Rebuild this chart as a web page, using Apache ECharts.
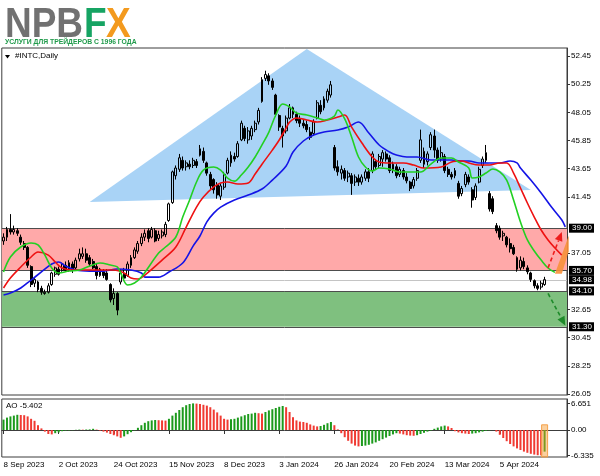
<!DOCTYPE html>
<html><head><meta charset="utf-8">
<script src="https://cdn.jsdelivr.net/npm/echarts@6/dist/echarts.min.js"></script>
<style>html,body{margin:0;padding:0;background:#fff}#c{width:600px;height:476px}</style>
</head><body><div id="c"></div>
<script>
// ---- data ----
const opens = [38.0,38.3,38.9,38.7,38.8,38.3,37.8,37.5,36.0,34.7,
 34.8,34.3,33.9,34.0,34.6,35.4,35.8,35.7,36.1,35.7,
 36.2,35.9,36.6,36.8,37.0,36.7,36.4,36.0,35.3,35.6,
 35.5,34.6,33.5,33.9,34.8,35.4,35.3,36.1,36.7,37.2,
 37.8,38.3,38.8,38.3,38.8,38.2,38.4,38.5,39.6,41.0,
 43.1,43.6,44.3,43.8,44.0,43.9,44.2,44.7,45.0,44.1,
 43.2,42.8,42.4,41.5,42.2,43.3,44.1,44.6,44.6,45.9,
 46.8,45.9,46.2,46.7,47.3,48.9,50.7,50.9,50.5,49.4,
 47.8,46.8,46.6,47.6,48.4,47.9,47.5,47.2,47.1,46.5,
 46.4,47.6,48.6,48.4,49.0,49.4,45.3,43.8,43.3,43.5,
 43.0,43.1,42.6,42.9,42.6,42.9,43.4,43.5,44.2,43.9,
 44.4,44.8,44.5,43.6,43.8,43.2,43.5,43.0,42.6,42.3,
 42.9,44.3,45.0,44.2,45.3,46.2,45.1,44.4,44.6,43.6,
 43.2,43.1,42.5,41.7,42.4,43.0,42.0,41.4,42.6,43.9,
 44.3,41.7,41.3,39.2,39.0,38.4,38.3,37.8,37.5,36.7,
 35.9,36.4,35.9,35.5,34.9,34.5,34.4,34.6];
const closes = [38.3,38.9,38.7,38.9,38.6,37.9,37.5,36.1,34.6,35.0,
 34.2,34.0,34.0,34.5,35.5,35.9,35.4,36.2,35.7,36.3,
 35.7,36.5,37.0,37.0,36.5,36.2,35.9,35.3,35.8,35.3,
 35.0,33.4,33.9,32.6,35.5,35.1,36.2,36.7,37.3,37.8,
 38.3,38.6,38.2,38.9,38.0,38.5,38.7,39.3,40.9,43.4,
 43.7,44.5,43.7,44.1,43.8,44.3,43.9,45.2,44.3,43.3,
 42.3,42.0,41.6,42.3,43.2,44.3,44.7,44.4,45.6,47.2,
 46.0,46.6,46.8,47.2,48.2,50.6,51.0,50.5,50.0,47.9,
 46.9,46.2,47.6,48.4,47.9,47.4,47.2,47.0,46.7,46.1,
 47.3,48.8,48.1,49.1,49.7,50.2,43.7,43.4,43.6,42.9,
 43.3,42.5,43.0,42.6,43.0,43.4,42.9,44.8,43.8,44.6,
 44.9,44.4,43.5,44.0,43.1,43.6,43.0,42.7,42.1,42.8,
 43.5,45.9,44.0,44.8,46.3,45.1,44.3,44.9,43.5,43.2,
 43.0,43.5,41.5,42.1,43.2,42.6,41.2,42.3,43.6,44.4,
 44.9,40.5,40.3,38.8,38.3,38.6,37.7,37.4,37.0,35.8,
 36.5,36.0,35.6,35.0,34.5,34.3,34.7,34.98];
const lows = [37.7,38.0,38.5,38.5,38.4,37.7,37.3,35.9,34.4,34.4,
 34.0,33.8,33.8,33.9,34.5,35.2,35.3,35.6,35.6,35.6,
 35.5,35.8,36.4,36.6,36.3,36.0,35.8,35.0,35.2,35.1,
 34.9,33.2,33.0,32.2,34.6,34.9,35.2,35.9,36.6,37.0,
 37.6,38.0,37.9,38.2,37.9,38.0,38.2,38.3,39.5,40.9,
 42.8,43.4,43.5,43.5,43.6,43.7,43.7,44.6,44.1,43.1,
 42.0,41.7,41.3,41.2,42.0,43.2,43.8,44.2,44.5,45.8,
 45.8,45.6,45.9,46.5,47.1,48.8,50.5,50.2,49.8,47.7,
 46.6,45.3,46.4,47.5,47.6,47.2,46.9,46.8,46.5,45.9,
 46.2,47.5,47.9,48.2,48.8,49.2,43.5,43.1,42.8,42.7,
 42.6,41.6,42.3,42.3,42.4,42.7,42.6,43.3,43.6,43.7,
 43.8,44.2,43.3,43.3,42.9,43.0,42.8,42.5,41.9,42.1,
 42.7,44.1,43.7,43.9,45.1,44.5,44.1,44.2,43.3,43.0,
 42.8,42.9,41.3,41.5,42.2,42.4,40.6,41.2,42.5,43.7,
 44.1,40.3,40.1,38.6,38.1,38.0,37.5,37.1,36.9,35.6,
 35.7,35.8,35.4,34.8,34.3,34.15,34.2,34.5];
const highs = [38.6,39.1,40.1,39.2,39.0,38.5,38.0,37.6,36.1,35.1,
 34.9,34.5,34.2,34.7,35.6,36.0,36.0,36.3,36.4,36.5,
 36.4,36.7,37.4,37.5,37.4,36.9,36.6,36.2,35.9,35.8,
 35.8,34.7,34.3,34.0,35.8,35.9,36.4,36.9,37.5,38.0,
 38.6,38.9,39.0,39.1,39.0,38.8,38.9,39.5,41.0,43.5,
 43.9,44.8,44.6,44.3,44.3,44.5,44.4,45.5,45.3,44.2,
 43.4,42.9,42.6,42.5,43.4,44.5,45.0,44.9,45.8,47.4,
 47.0,46.9,47.0,47.4,48.4,50.8,51.3,51.1,50.7,49.5,
 47.9,47.0,47.8,48.7,48.5,48.1,47.8,47.5,47.4,46.9,
 47.5,49.0,49.0,49.3,49.9,50.5,45.5,44.3,43.9,43.7,
 43.5,43.3,43.2,43.2,43.2,43.6,43.7,45.0,44.4,44.8,
 45.1,45.0,44.7,44.2,44.0,43.8,43.7,43.3,42.7,43.0,
 43.7,46.7,45.3,45.0,46.5,46.7,45.3,45.4,44.8,43.8,
 43.4,43.7,42.7,42.3,43.4,43.2,42.2,42.5,43.8,44.6,
 45.5,41.9,41.5,39.4,39.2,38.8,38.4,38.2,37.7,36.8,
 36.8,36.7,36.1,35.6,35.0,34.7,34.9,35.2];

// Awesome Oscillator values
const aoValues = [2.6,3.1,3.4,3.6,3.8, 3.75,3.7,3.4,2.8,2.3,
 1.2,0.4,-0.4,-1.0,-1.1, -0.8,-0.6,-0.3,-0.15,
 -0.1,-0.05,0.05,0.1,0.08,0.12,0.15,0.3,0.1,
 -0.15,-0.4,-0.65,-1.0,-1.3,-1.6,-1.95,
 -1.6,-1.05,-0.55,-0.1, 0.55,1.2,1.8,2.2,2.4,2.5, 2.45,2.4,2.35,
 2.8,3.6,4.3,5.0,5.7,6.2,6.5,6.651,
 6.6,6.5,6.3,6.1,5.7,5.1,4.4,3.6,2.8, 2.6,
 2.7,2.8,3.1,3.4,3.7,4.0,4.1,4.3, 4.2,4.1,
 4.5,4.9,5.2,5.5,5.8,6.0,
 5.7,4.5,3.2,2.4,2.1,2.0,1.8,1.4,1.1,0.9,
 1.0,1.3,1.7,2.0, 1.2,0.15,
 -0.8,-1.8,-2.7,-3.4,-3.9,-4.1,
 -4.0,-3.9,-3.7,-3.4,-3.1,-2.7,-2.3,-1.9,-1.5,-1.1,-0.8,
 -0.9,-1.1,-1.3,-1.4,-1.45,
 -1.3,-1.0,-0.7,-0.4,-0.1,0.3,0.6,0.9,1.1,
 0.9,0.5,-0.3,-0.6,-0.8,-0.9,-1.0,
 -0.9,-0.8,-0.6,-0.4,-0.2,-0.1,0.0,
 -0.4,-1.2,-2.0,-2.8,-3.5,-4.1,-4.6,-5.0,-5.4,-5.7,-5.95,-6.15,-6.3,-6.335,-5.402];

// Alligator lines: [bar index, price]
const lipsLine = [[0,35.58],[2,36.75],[5,37.53],[8,37.84],[10,37.69],[12,36.9],[14,35.89],[16,35.5],[19,35.65],[22,35.73],[25,36.04],[28,36.28],[31,36.12],[33,35.97],[34,35.5],[36,34.56],[38,34.72],[40,35.18],[45,37.06],[47,37.53],[50,38.31],[52,39.87],[54,41.2],[56,42.61],[58,43.54],[61,43.78],[63,43.54],[65,42.92],[67,42.68],[69,43.15],[71,43.78],[73,44.56],[75,45.5],[77,46.51],[79,47.84],[81,48.7],[83,48.47],[85,48.0],[88,47.84],[91,47.61],[93,47.45],[96,47.76],[97,48.23],[99,47.53],[101,46.12],[103,44.56],[105,43.78],[107,43.47],[109,43.7],[112,43.62],[115,43.39],[118,43.39],[121,43.39],[124,44.01],[127,44.48],[130,44.48],[132,44.17],[135,43.7],[136,42.92],[138,43.0],[140,43.31],[142,43.62],[144,43.39],[146,42.76],[148,41.2],[150,39.48],[152,38.08],[154,37.22],[156,36.51],[158,35.89],[160,35.55]];
const teethLine = [[0,34.33],[2,35.11],[5,35.97],[8,36.75],[10,37.14],[13,36.9],[15,36.36],[17,35.89],[20,35.73],[24,35.73],[28,35.73],[32,35.73],[35,35.5],[37,35.11],[39,35.03],[41,35.34],[46,36.51],[50,37.53],[53,39.09],[56,40.65],[58,41.43],[61,42.22],[63,42.53],[65,42.61],[68,42.45],[71,42.53],[73,43.23],[75,44.0],[78,45.1],[80,45.89],[82,46.82],[83,47.29],[85,47.61],[88,47.45],[91,47.29],[94,47.45],[97,47.68],[99,47.84],[101,46.9],[104,45.65],[107,44.56],[109,44.17],[112,44.09],[116,44.09],[119,43.93],[122,43.7],[127,43.78],[130,44.17],[133,44.25],[135,44.09],[138,43.93],[141,43.93],[144,44.09],[146,44.09],[148,43.31],[150,42.14],[152,40.97],[154,39.87],[156,38.86],[158,38.08],[160,37.45],[162,36.9]];
const jawLine = [[0,33.78],[2,33.93],[5,34.33],[8,34.95],[11,35.58],[14,36.2],[16,36.36],[18,36.04],[21,35.73],[25,35.65],[29,35.65],[33,35.81],[37,35.73],[40,35.5],[41,35.18],[45,35.18],[48,35.58],[52,36.28],[55,37.6],[57,38.39],[59,39.5],[61,40.18],[63,40.65],[67,41.2],[71,41.59],[75,42.06],[78,42.76],[82,43.86],[84,44.95],[87,45.81],[90,46.28],[93,46.51],[97,46.67],[100,46.9],[103,47.29],[106,46.43],[109,45.5],[112,44.95],[114,44.72],[117,44.56],[120,44.56],[124,44.33],[127,44.33],[130,44.33],[133,44.25],[135,44.25],[138,44.09],[141,44.09],[144,44.09],[147,44.25],[149,44.1],[150,43.7],[153,42.76],[156,41.75],[159,40.65],[162,39.64],[163,39.1]];

const priceTicks = [52.45,50.25,48.05,45.85,43.65,41.45,37.05,32.65,30.45,28.25,26.05];
const levelLabels = [39.00,35.70,34.98,34.10,31.30];
const resistanceZone = [35.70,39.00];
const supportZone = [31.30,34.10];
const lastPrice = 34.98;
const aoTicks = [6.651,0,-6.335];
const aoTickLabels = ['6.651','0.00','-6.335'];
const aoCurrent = -5.402;
// drawn objects anchored at [bar index, price]
const triangle = [[24.5,41.04],[87.5,53.0],[152.8,41.98]];
const upArrow = [[157.8,35.9],[162.4,38.7]];
const downArrow = [[158,33.9],[163.2,31.4]];
const orangeMark = [[160.0,35.45],[161.8,35.45],[163.5,37.2],[163.5,38.4]];
const startDate = '2023-09-08';
const holidays = ['2023-11-23','2023-12-25','2024-01-01','2024-01-15','2024-02-19','2024-03-29'];
const futureBars = 6;

// ---- categories (trading days) ----
const months = ['Jan','Feb','Mar','Apr','May','Jun','Jul','Aug','Sep','Oct','Nov','Dec'];
const categories = [];
{
  let d = new Date(startDate + 'T00:00:00Z');
  while (categories.length < opens.length) {
    const iso = d.toISOString().slice(0,10);
    const wd = d.getUTCDay();
    if (wd !== 0 && wd !== 6 && holidays.indexOf(iso) < 0) {
      categories.push(d.getUTCDate() + ' ' + months[d.getUTCMonth()] + ' ' + d.getUTCFullYear());
    }
    d = new Date(d.getTime() + 86400000);
  }
  for (let k = 0; k < futureBars; k++) categories.push('');
}
const nBars = opens.length;
const candleData = opens.map((o,i)=>[o, closes[i], lows[i], highs[i]]);
const aoData = aoValues.map((v,i)=>({value:v, itemStyle:{color: (i===0 || v >= aoValues[i-1]) ? '#1c9a1c' : '#f03a32'}}));

const FONT = '"Liberation Sans", Arial, sans-serif';

function renderZone(params, api) {
  const cs = params.coordSys;
  const yTop = api.coord([0, api.value(2)])[1];
  const yBot = api.coord([0, api.value(1)])[1];
  const fill = params.dataIndex === 0 ? '#ffa9a9' : '#7fc07f';
  return {type:'group', children:[
    {type:'rect', shape:{x:cs.x, y:yTop, width:cs.width, height:yBot-yTop}, style:{fill:fill}},
    {type:'line', shape:{x1:cs.x, y1:Math.round(yTop)+0.5, x2:cs.x+cs.width, y2:Math.round(yTop)+0.5}, style:{stroke:'#4d4d4d', lineWidth:1}},
    {type:'line', shape:{x1:cs.x, y1:Math.round(yBot)+0.5, x2:cs.x+cs.width, y2:Math.round(yBot)+0.5}, style:{stroke:'#4d4d4d', lineWidth:1}}
  ]};
}
function renderTriangle(params, api) {
  return {type:'polygon', shape:{points: triangle.map(p=>api.coord(p))}, style:{fill:'#a9d3f6'}};
}
function renderPriceLine(params, api) {
  const cs = params.coordSys;
  const y = Math.round(api.coord([0, lastPrice])[1]) + 0.5;
  return {type:'line', shape:{x1:cs.x, y1:y, x2:cs.x+cs.width, y2:y}, style:{stroke:'#c4c4c4', lineWidth:1}};
}
function arrowShape(api, pts, color) {
  const a = api.coord(pts[0]), b = api.coord(pts[1]);
  const dx = b[0]-a[0], dy = b[1]-a[1], L = Math.sqrt(dx*dx+dy*dy);
  const ux = dx/L, uy = dy/L, hl = 9, hw = 4;
  const bx = b[0]-ux*hl, by = b[1]-uy*hl;
  return [
    {type:'line', shape:{x1:a[0], y1:a[1], x2:bx, y2:by}, style:{stroke:color, lineWidth:1.6, lineDash:[4,3]}},
    {type:'polygon', shape:{points:[[b[0],b[1]],[bx-uy*hw, by+ux*hw],[bx+uy*hw, by-ux*hw]]}, style:{fill:color}}
  ];
}
function renderMarks(params, api) {
  return {type:'group', children:[
    {type:'polygon', shape:{points: orangeMark.map(p=>api.coord(p))}, style:{fill:'#f7913a', opacity:0.9}},
    ...arrowShape(api, upArrow, '#ee1c1c'),
    ...arrowShape(api, downArrow, '#1e8a2a')
  ]};
}
function renderLevelLabels(params, api) {
  const cs = params.coordSys;
  return {type:'group', children: levelLabels.map(v => ({
    type:'text',
    style:{text: v.toFixed(2), x: cs.x + cs.width + 2, y: api.coord([0, v])[1], verticalAlign:'middle', align:'left',
      fill:'#ffffff', backgroundColor:'#000000', padding:[1,2,0,3], font:'8px ' + FONT}
  }))};
}
function renderAoHighlight(params, api) {
  const cs = params.coordSys;
  const top = api.coord([nBars-1, 1.3]);
  const x = top[0];
  return {type:'rect', shape:{x:x-3, y:top[1], width:6, height:cs.y + cs.height - top[1]},
    style:{fill:'rgba(245,150,40,0.45)', stroke:'#f6a24a', lineWidth:1}};
}

const chart = echarts.init(document.getElementById('c'), null, {renderer:'canvas'});
chart.setOption({
  animation:false,
  backgroundColor:'#ffffff',
  grid:[
    {left:1.8, right:33, top:48, height:347, show:true, borderColor:'#3c3c3c', borderWidth:1, backgroundColor:'transparent'},
    {left:1.8, right:33, top:399, height:58, show:true, borderColor:'#3c3c3c', borderWidth:1, backgroundColor:'transparent'}
  ],
  xAxis:[
    {type:'category', gridIndex:0, data:categories, boundaryGap:true, axisLine:{show:false}, axisTick:{show:false}, axisLabel:{show:false}, splitLine:{show:false}},
    {type:'category', gridIndex:1, data:categories, boundaryGap:true,
      axisLine:{show:true, lineStyle:{color:'#3c3c3c'}},
      axisTick:{show:true, alignWithLabel:true, interval:(i)=> i % 16 === 0 && i < nBars, length:4, lineStyle:{color:'#333'}},
      axisLabel:{show:true, interval:(i)=> i % 16 === 0 && i < nBars, align:'left', margin:4, color:'#000', fontSize:8, fontFamily:FONT},
      splitLine:{show:false}}
  ],
  yAxis:[
    {type:'value', gridIndex:0, position:'right', min:25.97, max:53.075, scale:true,
      axisLine:{show:true, lineStyle:{color:'#3c3c3c'}},
      axisTick:{show:true, customValues:priceTicks, length:3, lineStyle:{color:'#333'}},
      axisLabel:{show:true, customValues:priceTicks, formatter:(v)=>v.toFixed(2), margin:4, color:'#000', fontSize:8, fontFamily:FONT},
      splitLine:{show:false}},
    {type:'value', gridIndex:1, position:'right', min:-6.75, max:7.75,
      axisLine:{show:true, lineStyle:{color:'#3c3c3c'}},
      axisTick:{show:true, customValues:aoTicks, length:3, lineStyle:{color:'#333'}},
      axisLabel:{show:true, customValues:aoTicks, formatter:(v)=>aoTickLabels[aoTicks.indexOf(v)] || String(v), margin:4, color:'#000', fontSize:8, fontFamily:FONT},
      splitLine:{show:false}}
  ],
  series:[
    {type:'custom', name:'triangle', xAxisIndex:0, yAxisIndex:0, data:[[0, 0]], renderItem:renderTriangle, z:1, silent:true},
    {type:'custom', name:'zones', xAxisIndex:0, yAxisIndex:0, data:[[0, resistanceZone[0], resistanceZone[1]], [0, supportZone[0], supportZone[1]]], renderItem:renderZone, z:1, silent:true},
    {type:'custom', name:'priceLine', xAxisIndex:0, yAxisIndex:0, data:[[0, lastPrice]], renderItem:renderPriceLine, z:1, silent:true},
    {type:'candlestick', name:'INTC', xAxisIndex:0, yAxisIndex:0, data:candleData, barWidth:2.4, z:2,
      itemStyle:{color:'rgba(0,0,0,0)', color0:'#000000', borderColor:'#000000', borderColor0:'#000000', borderWidth:1}},
    {type:'line', name:'Jaw', xAxisIndex:0, yAxisIndex:0, data:jawLine, showSymbol:false, smooth:0.35, z:3, lineStyle:{color:'#1414e6', width:1.6}},
    {type:'line', name:'Teeth', xAxisIndex:0, yAxisIndex:0, data:teethLine, showSymbol:false, smooth:0.35, z:3, lineStyle:{color:'#ee1111', width:1.6}},
    {type:'line', name:'Lips', xAxisIndex:0, yAxisIndex:0, data:lipsLine, showSymbol:false, smooth:0.35, z:3, lineStyle:{color:'#22d022', width:1.6}},
    {type:'custom', name:'marks', xAxisIndex:0, yAxisIndex:0, data:[[0, 0]], renderItem:renderMarks, z:6, silent:true},
    {type:'custom', name:'levels', xAxisIndex:0, yAxisIndex:0, data:[[0, 0]], renderItem:renderLevelLabels, z:10, silent:true, clip:false},
    {type:'bar', name:'AO', xAxisIndex:1, yAxisIndex:1, data:aoData, barWidth:2, z:2},
    {type:'custom', name:'aoMark', xAxisIndex:1, yAxisIndex:1, data:[[0, 0]], renderItem:renderAoHighlight, z:4, silent:true}
  ],
  graphic:[
    {type:'text', left:5, top:4, scaleX:0.86, style:{text:'NPB', fill:'#717171', font:'bold 43px ' + FONT}},
    {type:'text', left:84, top:4, scaleX:0.86, style:{text:'F', fill:'#16a463', font:'bold 43px ' + FONT}},
    {type:'text', left:106, top:4, scaleX:0.86, style:{text:'X', fill:'#f39a1e', font:'bold 43px ' + FONT}},
    {type:'text', left:5, top:38, scaleX:0.85, style:{text:'УСЛУГИ ДЛЯ ТРЕЙДЕРОВ С 1996 ГОДА', fill:'#1f9a4a', font:'bold 8px ' + FONT}},
    {type:'polygon', shape:{points:[[5,55],[10,55],[7.5,58.5]]}, style:{fill:'#000'}},
    {type:'text', left:15, top:52, style:{text:'#INTC,Daily', fill:'#000', font:'8px ' + FONT}},
    {type:'text', left:6, top:402, style:{text:'AO ' + aoCurrent.toFixed(3), fill:'#000', font:'8px ' + FONT}}
  ]
});
</script>
</body></html>
